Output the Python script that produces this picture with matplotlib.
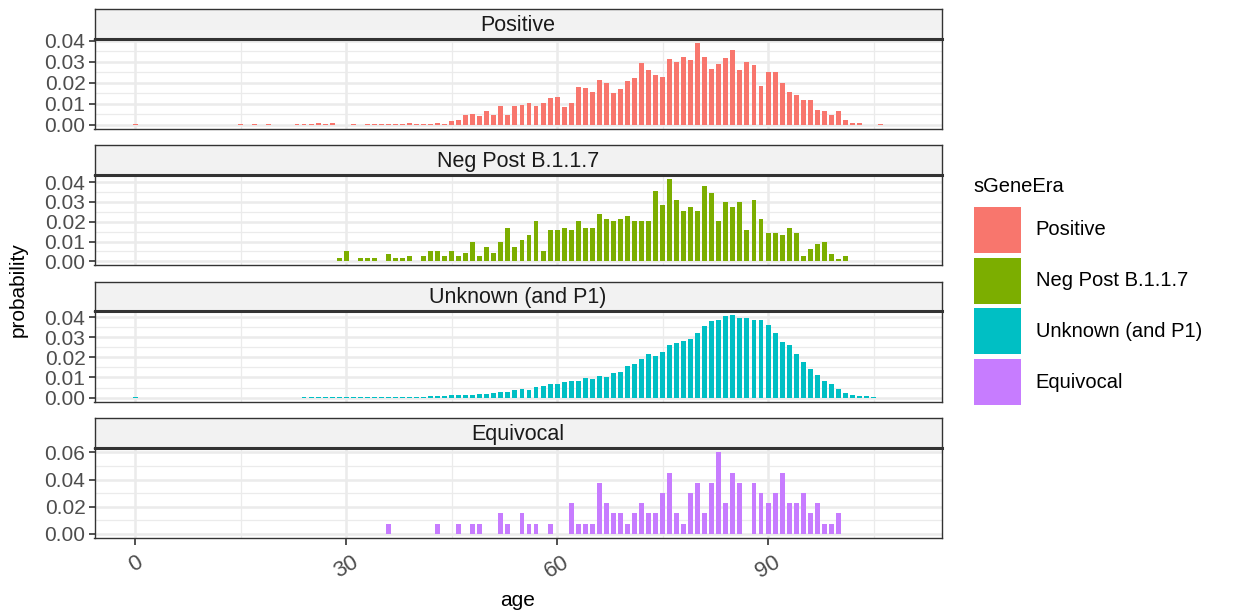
import numpy as np
import matplotlib
matplotlib.use("Agg")
from matplotlib import pyplot as plt
from matplotlib.patches import Rectangle

plt.rcParams['font.family'] = ['Liberation Sans', 'DejaVu Sans']

ages = np.arange(0, 107)

eras = ["Positive", "Neg Post B.1.1.7", "Unknown (and P1)", "Equivocal"]
colors = ["#F8766D", "#7CAE00", "#00BFC4", "#C77CFF"]

# probability by age (index = age 0..106)
positive = [
    0.0003, 0, 0, 0, 0, 0, 0, 0, 0, 0,
    0, 0, 0, 0, 0, 0.0003, 0, 0.0003, 0, 0.0003,
    0, 0, 0, 0.0003, 0.0003, 0.0005, 0.0008, 0.0005, 0.0008, 0,
    0, 0.0003, 0, 0.0003, 0.0005, 0.0005, 0.0005, 0.0005, 0.0005, 0.0008,
    0.0005, 0.0005, 0.0005, 0.0008, 0.0003, 0.0015, 0.002, 0.0044, 0.005, 0.004,
    0.0065, 0.0047, 0.009, 0.0044, 0.009, 0.0094, 0.0103, 0.0091, 0.0102, 0.0127,
    0.013, 0.0084, 0.0103, 0.018, 0.0173, 0.0156, 0.0214, 0.02, 0.0152, 0.0169,
    0.0211, 0.0222, 0.0295, 0.026, 0.0236, 0.023, 0.0313, 0.0298, 0.0323, 0.031,
    0.039, 0.0325, 0.0267, 0.029, 0.032, 0.0356, 0.026, 0.030, 0.0284, 0.0186,
    0.025, 0.0252, 0.02, 0.0156, 0.0144, 0.0117, 0.0117, 0.007, 0.0064, 0.0044,
    0.0064, 0.002, 0.0008, 0.0006, 0, 0, 0.0005,
]

neg_post = [
    0, 0, 0, 0, 0, 0, 0, 0, 0, 0,
    0, 0, 0, 0, 0, 0, 0, 0, 0, 0,
    0, 0, 0, 0, 0, 0, 0, 0, 0, 0.0015,
    0.005, 0, 0.0015, 0.0015, 0.0015, 0, 0.0036, 0.0015, 0.0015, 0.0026,
    0, 0.0026, 0.005, 0.005, 0.0026, 0.005, 0.0026, 0.004, 0.0099, 0.0026,
    0.0074, 0.004, 0.0099, 0.0168, 0.0074, 0.011, 0.0133, 0.0202, 0.005, 0.0158,
    0.0158, 0.0168, 0.0158, 0.0202, 0.0168, 0.0168, 0.0237, 0.0216, 0.0204, 0.0216,
    0.0227, 0.0204, 0.0204, 0.0204, 0.0356, 0.0285, 0.0415, 0.0311, 0.0252, 0.0273,
    0.0252, 0.038, 0.0346, 0.0204, 0.0298, 0.0273, 0.0298, 0.0158, 0.0311, 0.0216,
    0.0142, 0.0142, 0.0133, 0.0168, 0.0143, 0.0028, 0.0064, 0.0086, 0.0099, 0.0038,
    0.0013, 0.0025, 0, 0, 0, 0, 0,
]

unknown = [
    0.0002, 0, 0, 0, 0, 0, 0, 0, 0, 0,
    0, 0, 0, 0, 0, 0, 0, 0, 0, 0,
    0, 0, 0, 0, 0.0002, 0.0002, 0.0003, 0.0003, 0.0003, 0.0003,
    0.0003, 0.0003, 0.0003, 0.0003, 0.0003, 0.0003, 0.0004, 0.0004, 0.0004, 0.0004,
    0.0004, 0.0005, 0.0006, 0.0008, 0.001, 0.0012, 0.0011, 0.0013, 0.0015, 0.0017,
    0.002, 0.0023, 0.0026, 0.003, 0.0036, 0.0043, 0.004, 0.0051, 0.0058, 0.0066,
    0.0069, 0.0078, 0.0083, 0.0081, 0.0096, 0.0091, 0.0106, 0.0104, 0.0122, 0.0126,
    0.0157, 0.0169, 0.0193, 0.0215, 0.0205, 0.0226, 0.0263, 0.0271, 0.0283, 0.0291,
    0.0321, 0.0354, 0.0383, 0.0387, 0.0405, 0.041, 0.0395, 0.0395, 0.0385, 0.0387,
    0.036, 0.0321, 0.0276, 0.0263, 0.0217, 0.0177, 0.014, 0.0111, 0.0083, 0.0066,
    0.0045, 0.0023, 0.0013, 0.001, 0.0007, 0.0005, 0,
]

# equivocal: case counts by age, out of 133
equivocal_counts = [
    0, 0, 0, 0, 0, 0, 0, 0, 0, 0,
    0, 0, 0, 0, 0, 0, 0, 0, 0, 0,
    0, 0, 0, 0, 0, 0, 0, 0, 0, 0,
    0, 0, 0, 0, 0, 0, 1, 0, 0, 0,
    0, 0, 0, 1, 0, 0, 1, 0, 1, 1,
    0, 0, 2, 1, 0, 2, 1, 1, 0, 1,
    0, 0, 3, 1, 1, 1, 5, 3, 2, 2,
    1, 2, 3, 2, 2, 4, 6, 2, 1, 4,
    5, 2, 5, 8, 3, 6, 5, 0, 5, 4,
    3, 4, 6, 3, 3, 4, 2, 3, 1, 1,
    2, 0, 0, 0, 0, 0, 0,
]
equivocal = np.array(equivocal_counts) / sum(equivocal_counts)

series = [positive, neg_post, unknown, equivocal]
yticks = [
    [0, 0.01, 0.02, 0.03, 0.04],
    [0, 0.01, 0.02, 0.03, 0.04],
    [0, 0.01, 0.02, 0.03, 0.04],
    [0, 0.02, 0.04, 0.06],
]

W, H = 1237, 616
fig = plt.figure(figsize=(W / 100, H / 100), dpi=100)

left_px, right_px = 94.5, 941.7
panel_px = [(39, 128.7), (175, 265.5), (311, 401.7), (448, 538)]
strip_px = [(9, 39), (145, 175), (281.5, 311), (418.3, 448)]


def rect(top, bottom):
    return [left_px / W, 1 - bottom / H, (right_px - left_px) / W, (bottom - top) / H]


for i, (name, col, vals, yt) in enumerate(zip(eras, colors, series, yticks)):
    ax = fig.add_axes(rect(*panel_px[i]))
    vals = np.asarray(vals, dtype=float)
    ax.bar(ages, vals, width=0.7, color=col, zorder=3)
    vmax = vals.max()
    ax.set_ylim(-0.05 * vmax, 1.05 * vmax)
    ax.set_xlim(-5.8, 114.7)
    ax.set_xticks([0, 30, 60, 90])
    ax.set_xticks([15, 45, 75, 105], minor=True)
    ax.set_yticks(yt)
    ax.set_yticks([(a + b) / 2 for a, b in zip(yt[:-1], yt[1:])], minor=True)
    ax.set_yticklabels(["%.2f" % v for v in yt])
    ax.grid(which='major', color='#EBEBEB', lw=1.8, zorder=0)
    ax.grid(which='minor', color='#EBEBEB', lw=0.9, zorder=0)
    for s in ax.spines.values():
        s.set_color('#333333')
        s.set_linewidth(1.0)
    ax.tick_params(which='minor', length=0)
    ax.tick_params(axis='y', which='major', length=4.5, width=1.2, color='#333333',
                   labelsize=15, labelcolor='#4D4D4D', pad=2)
    if i < 3:
        ax.tick_params(axis='x', which='major', length=0, labelbottom=False)
    else:
        ax.tick_params(axis='x', which='major', length=5, width=1.2, color='#333333',
                       labelsize=16, labelcolor='#4D4D4D', pad=5)
        for lab in ax.get_xticklabels():
            lab.set_rotation(30)
            lab.set_ha('center')
            lab.set_va('top')

    # facet strip
    sax = fig.add_axes(rect(*strip_px[i]))
    sax.set_facecolor('#F2F2F2')
    sax.set_xticks([])
    sax.set_yticks([])
    for s in sax.spines.values():
        s.set_color('#333333')
        s.set_linewidth(1.0)
    sax.spines['bottom'].set_linewidth(2.2)
    sax.text(0.5, 0.45, name, transform=sax.transAxes, ha='center', va='center',
             fontsize=15.5, color='#1A1A1A')

fig.text(518 / W, 1 - 600 / H, "age", ha='center', va='center',
         fontsize=15, color='black')
fig.text(18 / W, 1 - 290 / H, "probability", rotation=90, ha='center', va='center',
         fontsize=15, color='black')

# legend
fig.text(973 / W, 1 - 186 / H, "sGeneEra", ha='left', va='center', fontsize=14.5,
         color='black')
key_tops = [206.7, 257.7, 308.3, 359]
for name, col, kt in zip(eras, colors, key_tops):
    fig.add_artist(Rectangle((974.3 / W, 1 - (kt + 46) / H), 46.4 / W, 46 / H,
                             transform=fig.transFigure, facecolor=col, edgecolor='none'))
    fig.text(1035.5 / W, 1 - (kt + 23) / H, name, ha='left', va='center',
             fontsize=14.5, color='black')

fig.savefig("out.png", dpi=100)
